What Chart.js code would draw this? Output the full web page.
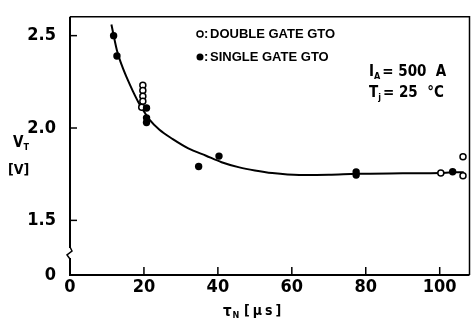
<!DOCTYPE html>
<html>
<head>
<meta charset="utf-8">
<script src="https://cdn.jsdelivr.net/npm/chart.js@4.4.1/dist/chart.umd.min.js"></script>
<style>
  html, body { margin: 0; padding: 0; background: #fff; }
  #wrap { width: 475px; height: 324px; position: relative; }
</style>
</head>
<body>
<div id="wrap"><canvas id="c" width="475" height="324"></canvas></div>
<script>
// ---- data ----
const xTickValues = [0, 20, 40, 60, 80, 100];
const yTickValues = [1.5, 2.0, 2.5];
const yBreakLabel = "0";

const doubleGateX = [19.7, 19.7, 19.7, 19.7, 19.4, 100.3, 106.3, 106.3];
const doubleGateY = [2.231, 2.203, 2.172, 2.145, 2.113, 1.757, 1.742, 1.845];

const singleGateX = [11.8, 12.7, 20.7, 20.7, 20.7, 34.8, 40.3, 77.4, 77.4, 103.5];
const singleGateY = [2.50, 2.39, 2.108, 2.055, 2.03, 1.792, 1.848, 1.745, 1.762, 1.763];

const fitX = [11.2, 12.7, 14, 15.3, 17, 18.5, 20, 21.5, 24.2, 27.8, 32, 36.8, 41, 45.8, 50, 54.7, 62, 70, 77.4, 90, 100.3, 103.5, 106.5];
const fitY = [2.56, 2.42, 2.34, 2.275, 2.20, 2.14, 2.09, 2.045, 1.99, 1.94, 1.89, 1.85, 1.815, 1.787, 1.77, 1.756, 1.746, 1.747, 1.752, 1.755, 1.757, 1.76, 1.76];

const legendLabels = ["DOUBLE GATE GTO", "SINGLE GATE GTO"];
const xTitle = ["\u03C4", "N", "[\u03BCs]"];
const yTitle = ["V", "T", "[V]"];
const conditions = [["I", "A", "= 500  A"], ["T", "j", "= 25  \u00B0C"]];

// ---- chart ----
const Y_MIN = 1.2043, Y_MAX = 2.602, X_MIN = 0, X_MAX = 108.06;
const NARROW = "'Liberation Sans Narrow', 'DejaVu Sans Condensed', 'Liberation Sans', sans-serif";
const SANS = "'Liberation Sans', Arial, sans-serif";

const zip = (xs, ys) => xs.map((x, i) => ({ x: x, y: ys[i] }));

const decor = {
  id: 'decor',
  afterDatasetsDraw(chart) {
    const { ctx, chartArea: a, scales: { x, y } } = chart;
    ctx.save();
    ctx.strokeStyle = '#000';
    ctx.fillStyle = '#000';
    // frame
    ctx.lineWidth = 1.5;
    ctx.beginPath();
    ctx.moveTo(a.left, a.top); ctx.lineTo(a.right, a.top); ctx.lineTo(a.right, a.bottom);
    ctx.stroke();
    ctx.lineWidth = 2;
    ctx.beginPath();
    ctx.moveTo(a.left, a.top); ctx.lineTo(a.left, a.bottom); ctx.lineTo(a.right, a.bottom);
    ctx.stroke();
    // inward tick marks
    ctx.lineWidth = 1.5;
    yTickValues.forEach(v => {
      const py = y.getPixelForValue(v);
      ctx.beginPath(); ctx.moveTo(a.left, py); ctx.lineTo(a.left + 7, py); ctx.stroke();
    });
    xTickValues.forEach(v => {
      if (v === 0) return;
      const px = x.getPixelForValue(v);
      ctx.beginPath(); ctx.moveTo(px, a.bottom); ctx.lineTo(px, a.bottom - 8); ctx.stroke();
    });
    // axis break
    const by = a.bottom - 22;
    ctx.fillStyle = '#fff';
    ctx.fillRect(a.left - 2, by - 5, 4, 10);
    ctx.fillStyle = '#000';
    ctx.lineWidth = 1.5;
    ctx.beginPath();
    ctx.moveTo(a.left, by - 6);
    ctx.lineTo(a.left + 2, by - 2);
    ctx.lineTo(a.left - 3, by + 2);
    ctx.lineTo(a.left, by + 6);
    ctx.stroke();

    ctx.textBaseline = 'middle';
    // legend
    ctx.lineWidth = 1.5;
    ctx.beginPath(); ctx.arc(200, 34, 3, 0, Math.PI * 2); ctx.stroke();
    ctx.beginPath(); ctx.arc(200, 57, 3.5, 0, Math.PI * 2); ctx.fill();
    ctx.font = 'bold 13px ' + SANS;
    ctx.textAlign = 'left';
    ctx.fillText(':', 204, 34);
    ctx.fillText(':', 204, 57);
    ctx.fillText(legendLabels[0], 210, 34);
    ctx.fillText(legendLabels[1], 210, 57);
    // conditions
    const condY = [72, 93];
    conditions.forEach((c, i) => {
      ctx.font = 'bold 15px ' + NARROW;
      ctx.fillText(c[0], 369, condY[i]);
      let w = ctx.measureText(c[0]).width;
      ctx.font = 'bold 9px ' + NARROW;
      ctx.fillText(c[1], 369 + w, condY[i] + 5);
      let w2 = ctx.measureText(c[1]).width;
      ctx.font = 'bold 15px ' + NARROW;
      ctx.fillText(c[2], 371 + w + w2, condY[i]);
    });
    // y title
    ctx.font = 'bold 15px ' + NARROW;
    ctx.fillText(yTitle[0], 13, 143);
    let vw = ctx.measureText(yTitle[0]).width;
    ctx.font = 'bold 9px ' + NARROW;
    ctx.fillText(yTitle[1], 13 + vw, 148);
    ctx.font = 'bold 14px ' + NARROW;
    ctx.fillText(yTitle[2], 8, 170);
    // x title
    ctx.font = 'bold 15px ' + NARROW;
    ctx.fillText(xTitle[0], 223, 312);
    let tw = ctx.measureText(xTitle[0]).width;
    ctx.font = 'bold 9px ' + NARROW;
    ctx.fillText(xTitle[1], 223 + tw + 1, 316);
    ctx.font = 'bold 14px ' + NARROW;
    ctx.letterSpacing = '3px';
    ctx.fillText(xTitle[2], 244, 311);
    ctx.restore();
  }
};

new Chart(document.getElementById('c'), {
  type: 'scatter',
  data: {
    datasets: [
      {
        label: 'fit',
        data: zip(fitX, fitY),
        showLine: true,
        borderColor: '#000',
        borderWidth: 2,
        pointRadius: 0,
        cubicInterpolationMode: 'monotone',
        order: 3
      },
      {
        label: legendLabels[0],
        data: zip(doubleGateX, doubleGateY),
        pointRadius: 3,
        pointBorderWidth: 1.5,
        pointBackgroundColor: '#fff',
        pointBorderColor: '#000',
        order: 2
      },
      {
        label: legendLabels[1],
        data: zip(singleGateX, singleGateY),
        pointRadius: 3.7,
        pointBorderWidth: 0,
        pointBackgroundColor: '#000',
        pointBorderColor: '#000',
        order: 1
      }
    ]
  },
  options: {
    responsive: false,
    animation: false,
    events: [],
    layout: { padding: { top: 15, right: 3, left: 0, bottom: 0 } },
    plugins: { legend: { display: false }, tooltip: { enabled: false } },
    scales: {
      x: {
        type: 'linear',
        min: X_MIN, max: X_MAX,
        afterFit(s) { s.height = 49; },
        afterBuildTicks(s) { s.ticks = xTickValues.map(v => ({ value: v })); },
        grid: { display: false },
        border: { display: false },
        ticks: {
          color: '#000',
          padding: -6,
          font: { family: NARROW, size: 18, weight: 'bold' },
          callback: v => String(v)
        }
      },
      y: {
        type: 'linear',
        min: Y_MIN, max: Y_MAX,
        afterFit(s) { s.width = 70; },
        afterBuildTicks(s) { s.ticks = [Y_MIN].concat(yTickValues).map(v => ({ value: v })); },
        grid: { display: false },
        border: { display: false },
        ticks: {
          color: '#000',
          padding: 6,
          font: { family: NARROW, size: 18, weight: 'bold' },
          callback: v => (v === Y_MIN ? yBreakLabel : v.toFixed(1))
        }
      }
    }
  },
  plugins: [decor]
});
</script>
</body>
</html>
